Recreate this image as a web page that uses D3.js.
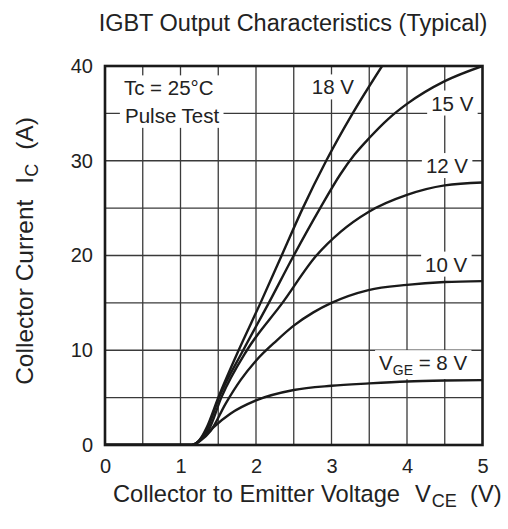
<!DOCTYPE html>
<html>
<head>
<meta charset="utf-8">
<script src="https://cdn.jsdelivr.net/npm/d3@7"></script>
<style>
  body { margin: 0; background: #fff; }
  text { font-family: "Liberation Sans", Arial, sans-serif; fill: #222; }
</style>
</head>
<body>
<svg id="chart"></svg>
<script>
// Curves (VCE in V, IC in A)
const curve18 = [[0, 0], [1.15, 0], [1.25, 0.5], [1.35, 1.9], [1.5, 5], [1.77, 10], [2.06, 15], [2.34, 20], [2.62, 25], [2.93, 30], [3.28, 35], [3.67, 40]];
const curve15 = [[0, 0], [1.15, 0], [1.25, 0.5], [1.36, 1.8], [1.51, 5], [1.83, 10], [2.17, 15], [2.5, 20], [2.85, 25], [3.12, 28.6], [3.3, 30.6], [3.5, 32.4], [3.75, 34.4], [4.0, 36.0], [4.5, 38.4], [5.0, 40]];
const curve12 = [[0, 0], [1.15, 0], [1.26, 0.5], [1.38, 1.7], [1.54, 5], [1.88, 10], [2.35, 15], [2.8, 20], [3.12, 22.5], [3.49, 24.6], [4.0, 26.4], [4.5, 27.4], [5.0, 27.7]];
const curve10 = [[0, 0], [1.15, 0], [1.27, 0.5], [1.4, 1.5], [1.6, 4.4], [1.8, 6.9], [2.0, 8.9], [2.27, 11.0], [2.5, 12.6], [2.76, 14.0], [3.0, 15.0], [3.49, 16.35], [4.0, 16.9], [4.5, 17.2], [5.0, 17.3]];
const curve8 = [[0, 0], [1.15, 0], [1.3, 0.8], [1.44, 1.9], [1.66, 3.3], [2.0, 4.7], [2.5, 5.8], [3.0, 6.25], [3.5, 6.5], [4.0, 6.7], [4.5, 6.8], [5.0, 6.85]];
const curves = [curve18, curve15, curve12, curve10, curve8];

const xTicks = [0, 1, 2, 3, 4, 5];
const yTicks = [0, 10, 20, 30, 40];
const xGrid = d3.range(0.5, 5, 0.5);
const yGrid = d3.range(5, 40, 5);

const width = 508;
const height = 529;
const margin = { top: 66, right: 26, bottom: 84, left: 105 };

const svg = d3.select("#chart")
    .attr("width", width)
    .attr("height", height);

const x = d3.scaleLinear().domain([0, 5]).range([margin.left, width - margin.right + 0.5]);
const y = d3.scaleLinear().domain([0, 40]).range([height - margin.bottom, margin.top]);

// Title
svg.append("text")
    .attr("x", 293)
    .attr("y", 31)
    .attr("text-anchor", "middle")
    .style("font-size", "23.5px")
    .text("IGBT Output Characteristics (Typical)");

// Grid
svg.append("g")
    .selectAll("line")
    .data(xGrid)
    .join("line")
    .attr("x1", d => x(d)).attr("x2", d => x(d))
    .attr("y1", y(0)).attr("y2", y(40))
    .attr("stroke", "#3a3a3a")
    .attr("stroke-width", 1.3);

svg.append("g")
    .selectAll("line")
    .data(yGrid)
    .join("line")
    .attr("y1", d => y(d)).attr("y2", d => y(d))
    .attr("x1", x(0)).attr("x2", x(5))
    .attr("stroke", "#3a3a3a")
    .attr("stroke-width", 1.3);

// Axes (labels only)
const xAxis = svg.append("g")
    .attr("transform", `translate(0,${y(0)})`)
    .call(d3.axisBottom(x).tickValues(xTicks).tickSize(0).tickPadding(14).tickFormat(d3.format("d")));
xAxis.select(".domain").remove();
xAxis.selectAll("text").style("font-size", "20px").style("font-family", "Liberation Sans, Arial, sans-serif").attr("fill", "#222");

const yAxis = svg.append("g")
    .attr("transform", `translate(${x(0)},0)`)
    .call(d3.axisLeft(y).tickValues(yTicks).tickSize(0).tickPadding(12).tickFormat(d3.format("d")));
yAxis.select(".domain").remove();
yAxis.selectAll("text").style("font-size", "20px").style("font-family", "Liberation Sans, Arial, sans-serif").attr("fill", "#222");

// Labels inside the plot, each on a white box
function boxedLabel(lines) {
    const g = svg.append("g");
    const box = g.append("rect").attr("fill", "#fff");
    lines.forEach(l => {
        const t = g.append("text")
            .attr("x", x(l.v))
            .attr("y", y(l.i))
            .style("font-size", "20.5px");
        t.append("tspan").text(l.text);
        if (l.sub) {
            t.append("tspan").attr("dy", 5).style("font-size", "14px").text(l.sub);
            t.append("tspan").attr("dy", -5).text(l.after);
        }
    });
    const b = g.node().getBBox();
    box.attr("x", b.x - 4).attr("y", b.y - 1).attr("width", b.width + 8).attr("height", b.height + 2);
}

boxedLabel([{ text: "Tc = 25°C", v: 0.25, i: 36.9 }, { text: "Pulse Test", v: 0.265, i: 34.0 }]);
boxedLabel([{ text: "18 V", v: 2.74, i: 37.0 }]);
boxedLabel([{ text: "15 V", v: 4.32, i: 35.3 }]);
boxedLabel([{ text: "12 V", v: 4.25, i: 28.7 }]);
boxedLabel([{ text: "10 V", v: 4.24, i: 18.3 }]);
boxedLabel([{ text: "V", sub: "GE", after: " = 8 V", v: 3.63, i: 7.9 }]);

// Curves
svg.append("clipPath").attr("id", "clip")
    .append("rect")
    .attr("x", x(0)).attr("y", y(40))
    .attr("width", x(5) - x(0)).attr("height", y(0) - y(40));

const line = d3.line()
    .x(d => x(d[0]))
    .y(d => y(d[1]))
    .curve(d3.curveMonotoneX);

svg.append("g")
    .attr("clip-path", "url(#clip)")
    .selectAll("path")
    .data(curves)
    .join("path")
    .attr("d", line)
    .attr("fill", "none")
    .attr("stroke", "#1a1a1a")
    .attr("stroke-width", 2.4);

// Frame
svg.append("rect")
    .attr("x", x(0)).attr("y", y(40))
    .attr("width", x(5) - x(0)).attr("height", y(0) - y(40))
    .attr("fill", "none")
    .attr("stroke", "#1a1a1a")
    .attr("stroke-width", 2.6);

// Axis titles
const xt = svg.append("text")
    .attr("x", 113)
    .attr("y", 502)
    .style("font-size", "23.7px");
xt.append("tspan").text("Collector to Emitter Voltage");
xt.append("tspan").attr("x", 415).text("V");
xt.append("tspan").attr("dy", 5).attr("dx", 1).style("font-size", "18px").text("CE");
xt.append("tspan").attr("dy", -5).attr("x", 470).text("(V)");

const yt = svg.append("text")
    .attr("transform", "translate(33,251) rotate(-90)")
    .attr("text-anchor", "middle")
    .style("font-size", "24.5px");
yt.append("tspan").text("Collector Current");
yt.append("tspan").attr("dx", 16).text("I");
yt.append("tspan").attr("dy", 5).style("font-size", "18px").text("C");
yt.append("tspan").attr("dy", -5).attr("dx", 14).text("(A)");
</script>
</body>
</html>
